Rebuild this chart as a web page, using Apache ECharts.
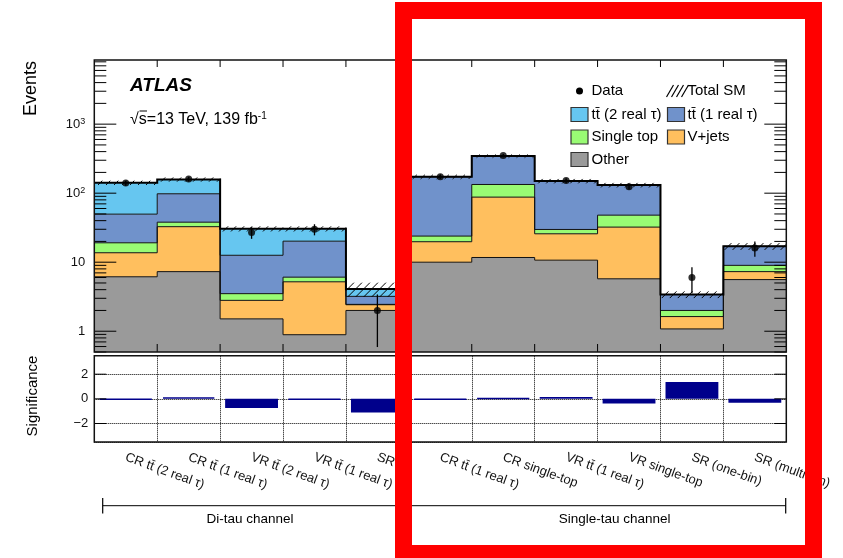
<!DOCTYPE html>
<html><head><meta charset="utf-8">
<script src="https://cdn.jsdelivr.net/npm/echarts@6/dist/echarts.min.js"></script>
<style>html,body{margin:0;padding:0;background:#fff}#c{width:843px;height:558px}</style>
</head><body><div id="c"></div>
<script>
const TT = 't\u0074\u0304';
// ---- data ----
const categories = ['CR ' + TT + ' (2 real \u03c4)', 'CR ' + TT + ' (1 real \u03c4)', 'VR ' + TT + ' (2 real \u03c4)', 'VR ' + TT + ' (1 real \u03c4)', 'SR',
  'CR ' + TT + ' (1 real \u03c4)', 'CR single-top', 'VR ' + TT + ' (1 real \u03c4)', 'VR single-top', 'SR (one-bin)', 'SR (multi-bin)'];
const other     = [6.15, 7.3, 1.51, 0.89, 2.0, 10.0, 11.7, 10.7, 5.75, 1.08, 5.6];
const vjets     = [7.55, 25.4, 1.29, 4.31, 0.42, 9.8, 76, 15.1, 26.5, 0.55, 1.7];
const singleTop = [5.4, 5.3, 0.7, 0.87, 0.03, 4.1, 46, 4.0, 15.8, 0.37, 1.7];
const ttbar1    = [30.6, 60, 9.1, 14.1, 0.75, 149, 211, 120, 83, 1.4, 8];
const ttbar2    = [92, 60, 17.9, 10.3, 0.9, 0, 0, 0, 0, 0, 0];
const totalUnc  = [10, 11, 2.6, 2.6, 0.95, 12, 18, 11, 10, 0.38, 1.9];
const dataVals  = [140, 160, 27, 30, 2, 173, 350, 152, 124, 6, 16];
const dataErr   = [11.8, 12.6, 5.2, 5.5, 1.41, 13.2, 18.7, 12.3, 11.1, 2.45, 4];
const significance = [-0.05, 0.12, -0.74, -0.05, -1.1, -0.05, 0.05, 0.15, -0.37, 1.37, -0.32];
const yTickLabels = ['1', '10', '10{sup|2}', '10{sup|3}'];
const sigTickLabels = ['\u22122', '0', '2'];
const legendLabels = ['Data', 'Total SM', TT + ' (2 real \u03c4)', TT + ' (1 real \u03c4)', 'Single top', 'V+jets', 'Other'];

// ---- style ----
const FONT = 'Liberation Sans, Arial, Helvetica, sans-serif';
const COLORS = { other: '#9a9a9a', vjets: '#ffbf5e', st: '#99fb74', tt1: '#7092cb', tt2: '#66c6f0' };
const Y_MIN = 0.5, Y_MAX = 8500;

// stacked layers (bottom -> top)
const layers = [
  { vals: other, color: COLORS.other },
  { vals: vjets, color: COLORS.vjets },
  { vals: singleTop, color: COLORS.st },
  { vals: ttbar1, color: COLORS.tt1 },
  { vals: ttbar2, color: COLORS.tt2 }
];
const n = categories.length;
const bases = [], tops = [];
{
  let run = new Array(n).fill(0);
  layers.forEach(l => {
    bases.push(run.slice());
    run = run.map((v, i) => v + l.vals[i]);
    tops.push(run.slice());
  });
}
const total = tops[tops.length - 1];

const chart = echarts.init(document.getElementById('c'), null, { renderer: 'canvas' });

function clipY(cs, y) { return Math.max(cs.y, Math.min(cs.y + cs.height, y)); }
function yOf(api, cs, v) { return v > 0 ? clipY(cs, api.coord([0, v])[1]) : cs.y + cs.height; }

// one filled step polygon per stacked layer
const fillSeries = layers.map((l, li) => ({
  type: 'custom', xAxisIndex: 0, yAxisIndex: 0, z: 2, silent: true,
  data: [[0, 1]],
  renderItem(params, api) {
    const cs = params.coordSys;
    const pts = [];
    for (let i = 0; i < n; i++) {
      const y = yOf(api, cs, tops[li][i]);
      pts.push([api.coord([i, 1])[0], y], [api.coord([i + 1, 1])[0], y]);
    }
    for (let i = n - 1; i >= 0; i--) {
      const y = yOf(api, cs, bases[li][i]);
      pts.push([api.coord([i + 1, 1])[0], y], [api.coord([i, 1])[0], y]);
    }
    return { type: 'polygon', shape: { points: pts }, style: { fill: l.color, stroke: null } };
  }
}));

function stepPoints(api, cs, arr) {
  const pts = [];
  for (let i = 0; i < n; i++) {
    const y = yOf(api, cs, arr[i]);
    pts.push([api.coord([i, 1])[0], y], [api.coord([i + 1, 1])[0], y]);
  }
  return pts;
}

const outlineSeries = {
  type: 'custom', xAxisIndex: 0, yAxisIndex: 0, z: 3, silent: true,
  data: [[0, 1]],
  renderItem(params, api) {
    const cs = params.coordSys;
    const ch = [];
    for (let li = 0; li < tops.length - 1; li++) {
      ch.push({ type: 'polyline', shape: { points: stepPoints(api, cs, tops[li]) }, style: { stroke: '#111', lineWidth: 1, fill: null } });
    }
    return { type: 'group', children: ch };
  }
};

const hatchSeries = {
  type: 'custom', xAxisIndex: 0, yAxisIndex: 0, z: 4, silent: true,
  data: total.map((t, i) => [i, t - totalUnc[i], t + totalUnc[i]]),
  encode: { x: 0, y: 2 },
  renderItem(params, api) {
    const cs = params.coordSys;
    const i = api.value(0), lo = api.value(1), hi = api.value(2);
    const x0 = api.coord([i, hi])[0], x1 = api.coord([i + 1, hi])[0];
    const yt = yOf(api, cs, hi);
    const yb = yOf(api, cs, lo);
    const h = yb - yt;
    const ch = [];
    const step = 8;
    for (let s = x0 - h; s < x1; s += step) {
      const tmin = Math.max(0, x0 - s), tmax = Math.min(h, x1 - s);
      if (tmin < tmax) ch.push({ type: 'line', shape: { x1: s + tmin, y1: yb - tmin, x2: s + tmax, y2: yb - tmax }, style: { stroke: '#000', lineWidth: 1 } });
    }
    return { type: 'group', children: ch };
  }
};

const totalSeries = {
  type: 'custom', xAxisIndex: 0, yAxisIndex: 0, z: 5, silent: true,
  data: [[0, 1]],
  renderItem(params, api) {
    const cs = params.coordSys;
    return { type: 'polyline', shape: { points: stepPoints(api, cs, total) }, style: { stroke: '#000', lineWidth: 2, fill: null } };
  }
};

const errSeries = {
  type: 'custom', xAxisIndex: 0, yAxisIndex: 0, z: 6, silent: true,
  data: dataVals.map((v, i) => [i + 0.5, v - dataErr[i], v + dataErr[i]]),
  encode: { x: 0, y: 2 },
  renderItem(params, api) {
    const cs = params.coordSys;
    const x = api.coord([api.value(0), api.value(2)])[0];
    const y1 = yOf(api, cs, api.value(1));
    const y2 = yOf(api, cs, api.value(2));
    return { type: 'line', shape: { x1: x, y1: y1, x2: x, y2: y2 }, style: { stroke: '#000', lineWidth: 1.3 } };
  }
};

const dataSeries = {
  type: 'scatter', xAxisIndex: 0, yAxisIndex: 0, z: 7, silent: true,
  data: dataVals.map((v, i) => [i + 0.5, v]),
  symbol: 'circle', symbolSize: 7, itemStyle: { color: '#000' }
};

const topFrameSeries = {
  type: 'custom', xAxisIndex: 0, yAxisIndex: 0, z: 8, silent: true,
  data: [[0, 1]],
  renderItem(params, api) {
    const cs = params.coordSys;
    const L = cs.x, R = cs.x + cs.width, T = cs.y, B = cs.y + cs.height;
    const ch = [];
    const ln = (x1, y1, x2, y2) => ch.push({ type: 'line', shape: { x1, y1, x2, y2 }, style: { stroke: '#000', lineWidth: 1 } });
    for (let k = -1; k <= 4; k++) for (let m = 1; m <= 9; m++) {
      const v = m * Math.pow(10, k);
      if (v < Y_MIN || v > Y_MAX) continue;
      const y = api.coord([0, v])[1];
      const len = m === 1 ? 22 : 12;
      ln(L, y, L + len, y); ln(R, y, R - len, y);
    }
    for (let i = 1; i < n; i++) {
      const x = api.coord([i, 1])[0];
      ln(x, T, x, T + 7); ln(x, B, x, B - 8);
    }
    ch.push({ type: 'rect', shape: { x: L, y: T, width: cs.width, height: cs.height }, style: { fill: null, stroke: '#111', lineWidth: 1.5 } });
    return { type: 'group', children: ch };
  }
};

const sigSeries = {
  type: 'bar', xAxisIndex: 1, yAxisIndex: 1, z: 3, silent: true,
  data: significance, barCategoryGap: '16%',
  itemStyle: { color: '#00008b', borderColor: '#00008b', borderWidth: 1.5 }
};

const lowFrameSeries = {
  type: 'custom', xAxisIndex: 1, yAxisIndex: 1, z: 8, silent: true,
  data: [[0, 0]],
  renderItem(params, api) {
    const cs = params.coordSys;
    const L = cs.x, R = cs.x + cs.width;
    const ch = [];
    [-2, 0, 2].forEach(v => {
      const y = api.coord([0, v])[1];
      ch.push({ type: 'line', shape: { x1: L, y1: y, x2: L + 12, y2: y }, style: { stroke: '#000', lineWidth: 1 } });
      ch.push({ type: 'line', shape: { x1: R, y1: y, x2: R - 12, y2: y }, style: { stroke: '#000', lineWidth: 1 } });
    });
    ch.push({ type: 'rect', shape: { x: L, y: cs.y, width: cs.width, height: cs.height }, style: { fill: null, stroke: '#111', lineWidth: 1.5 } });
    return { type: 'group', children: ch };
  }
};

// legend graphics
const colX = [571, 667.5], textX = [591.5, 687.5], rowY = [91, 114.5, 137, 159.5];
const legendG = [];
const legSpec = [
  { c: 0, r: 0, kind: 'dot' }, { c: 1, r: 0, kind: 'hatch' },
  { c: 0, r: 1, color: COLORS.tt2 }, { c: 1, r: 1, color: COLORS.tt1 },
  { c: 0, r: 2, color: COLORS.st }, { c: 1, r: 2, color: COLORS.vjets },
  { c: 0, r: 3, color: COLORS.other }
];
legSpec.forEach((s, k) => {
  const x = colX[s.c], y = rowY[s.r];
  if (s.kind === 'dot') {
    legendG.push({ type: 'circle', shape: { cx: x + 8.5, cy: y, r: 3.5 }, style: { fill: '#000' } });
  } else if (s.kind === 'hatch') {
    for (let j = 0; j < 4; j++) {
      const xs = x + j * 5;
      legendG.push({ type: 'line', shape: { x1: xs - 1, y1: y + 6, x2: xs + 6, y2: y - 6 }, style: { stroke: '#000', lineWidth: 1.2 } });
    }
  } else {
    legendG.push({ type: 'rect', shape: { x: x, y: y - 7, width: 17, height: 14 }, style: { fill: s.color, stroke: '#333', lineWidth: 1.2 } });
  }
  legendG.push({ type: 'text', x: textX[s.c], y: y, style: { text: legendLabels[k], font: '15px ' + FONT, fill: '#000', verticalAlign: 'middle', align: 'left' } });
});

const graphics = [
  { type: 'text', x: 130, y: 86, style: { text: 'ATLAS', font: 'italic bold 19px ' + FONT, fill: '#000', verticalAlign: 'middle' } },
  { type: 'text', x: 130, y: 120, style: { text: '\u221as=13 TeV, 139 fb{sup|-1}', font: '16px ' + FONT, fill: '#000', verticalAlign: 'middle',
      rich: { sup: { fontSize: 10, fontFamily: FONT, verticalAlign: 'top', padding: [0, 0, 8, 0] } } } },
  { type: 'line', shape: { x1: 139.5, y1: 111, x2: 147, y2: 111 }, style: { stroke: '#000', lineWidth: 1 } },
  { type: 'text', x: 31, y: 61, rotation: Math.PI / 2, style: { text: 'Events', font: '18px ' + FONT, fill: '#000', align: 'right', verticalAlign: 'middle' } },
  { type: 'text', x: 33, y: 396, rotation: Math.PI / 2, style: { text: 'Significance', font: '15px ' + FONT, fill: '#000', align: 'center', verticalAlign: 'middle' } },
  // channel brackets
  { type: 'line', shape: { x1: 102.7, y1: 505.7, x2: 399, y2: 505.7 }, style: { stroke: '#000', lineWidth: 1 } },
  { type: 'line', shape: { x1: 102.7, y1: 498, x2: 102.7, y2: 513.5 }, style: { stroke: '#000', lineWidth: 1.2 } },
  { type: 'line', shape: { x1: 399, y1: 498, x2: 399, y2: 513.5 }, style: { stroke: '#000', lineWidth: 1.2 } },
  { type: 'line', shape: { x1: 408, y1: 505.7, x2: 785.7, y2: 505.7 }, style: { stroke: '#000', lineWidth: 1 } },
  { type: 'line', shape: { x1: 408, y1: 498, x2: 408, y2: 513.5 }, style: { stroke: '#000', lineWidth: 1.2 } },
  { type: 'line', shape: { x1: 785.7, y1: 498, x2: 785.7, y2: 513.5 }, style: { stroke: '#000', lineWidth: 1.2 } },
  { type: 'text', x: 250, y: 519.5, style: { text: 'Di-tau channel', font: '13.5px ' + FONT, fill: '#000', align: 'center', verticalAlign: 'middle' } },
  { type: 'text', x: 614.7, y: 519.5, style: { text: 'Single-tau channel', font: '13.5px ' + FONT, fill: '#000', align: 'center', verticalAlign: 'middle' } },
  ...legendG,
  // red highlight box
  { type: 'rect', z: 100, shape: { x: 403.5, y: 10.5, width: 410, height: 543 }, style: { fill: null, stroke: '#ff0000', lineWidth: 17 } }
];

const option = {
  animation: false,
  backgroundColor: '#fff',
  textStyle: { fontFamily: FONT },
  grid: [
    { left: 94.3, top: 60, width: 692, height: 292, show: false },
    { left: 94.3, top: 355.7, width: 692, height: 86.3, show: false }
  ],
  xAxis: [
    { type: 'value', gridIndex: 0, min: 0, max: n, show: false },
    { type: 'category', gridIndex: 1, data: categories, boundaryGap: true,
      axisLine: { show: false }, axisTick: { show: false },
      splitLine: { show: true, lineStyle: { type: 'dotted', color: '#000', width: 1 } },
      axisLabel: { interval: 0, rotate: -20, margin: 15, fontSize: 13, color: '#111', fontFamily: FONT } }
  ],
  yAxis: [
    { type: 'log', gridIndex: 0, logBase: 10, min: Y_MIN, max: Y_MAX,
      axisLine: { show: false }, axisTick: { show: false }, splitLine: { show: false },
      axisLabel: { margin: 9, fontSize: 13, color: '#111', fontFamily: FONT,
        rich: { sup: { fontSize: 9, fontFamily: FONT, verticalAlign: 'top', padding: [0, 0, 6, 0] } },
        formatter: v => { const e = Math.log10(v), r = Math.round(e); if (Math.abs(e - r) > 1e-6 || r < 0 || r >= yTickLabels.length) return ''; return yTickLabels[r]; } } },
    { type: 'value', gridIndex: 1, min: -3.5, max: 3.5, splitNumber: 3,
      axisLine: { show: false }, axisTick: { show: false },
      splitLine: { show: true, lineStyle: { type: 'dotted', color: '#000', width: 1 } },
      axisLabel: { margin: 6, fontSize: 13, color: '#111', fontFamily: FONT, showMinLabel: false, showMaxLabel: false,
        formatter: v => (Math.abs(v + 2) < 1e-9 ? sigTickLabels[0] : Math.abs(v) < 1e-9 ? sigTickLabels[1] : Math.abs(v - 2) < 1e-9 ? sigTickLabels[2] : '') } }
  ],
  series: [...fillSeries, outlineSeries, hatchSeries, totalSeries, errSeries, dataSeries, topFrameSeries, sigSeries, lowFrameSeries],
  graphic: graphics
};
chart.setOption(option);
</script></body></html>
